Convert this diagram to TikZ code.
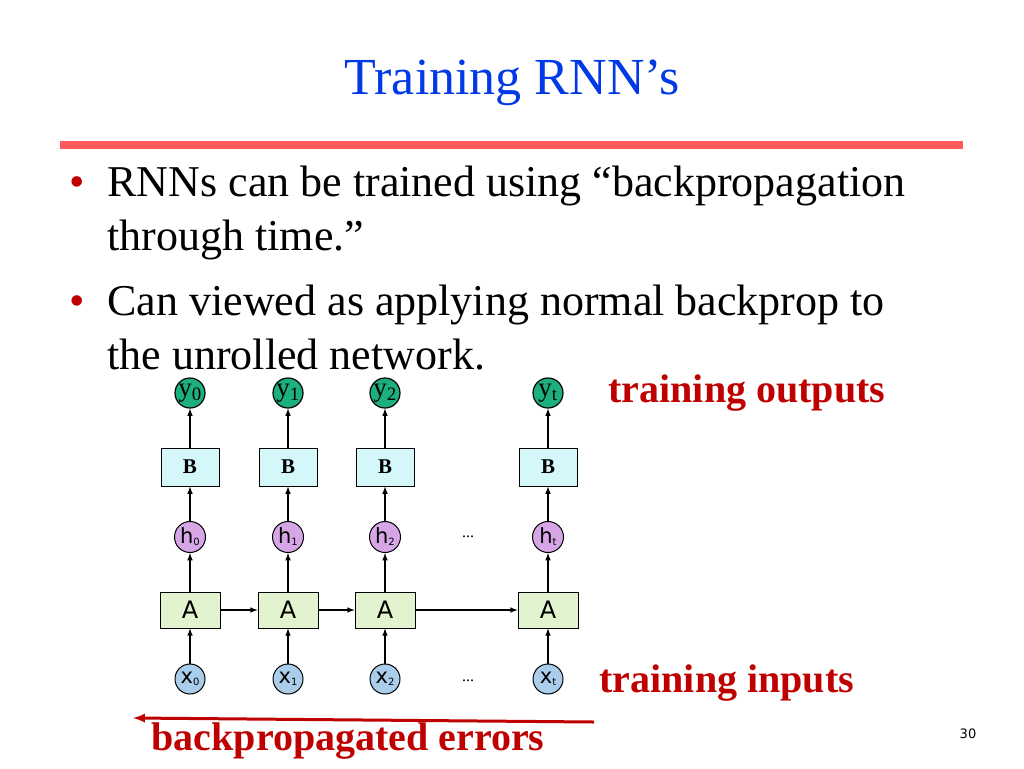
\documentclass[tikz,border=0pt]{standalone}
\usepackage{fontspec}
\setmainfont{Liberation Serif}
\setsansfont{DejaVu Sans}
\definecolor{ygreen}{HTML}{1DAF7E}
\definecolor{xblue}{HTML}{A9CDEB}
\definecolor{hviolet}{HTML}{D6A6E6}
\definecolor{bcyan}{HTML}{D4F8FA}
\definecolor{agreen}{HTML}{E2F3CF}
\begin{document}
\begin{tikzpicture}[x=1pt,y=-1pt,
  ycirc/.style={circle,draw,line width=1.2pt,fill=ygreen,minimum size=30pt,inner sep=0pt,font=\fontsize{27}{27}\selectfont},
  hcirc/.style={circle,draw,line width=1pt,fill=hviolet,minimum size=31pt,inner sep=0pt,font=\sffamily\fontsize{21}{21}\selectfont},
  xcirc/.style={circle,draw,line width=1pt,fill=xblue,minimum size=30pt,inner sep=0pt,font=\sffamily\fontsize{21}{21}\selectfont},
  bbox/.style={draw,line width=1pt,fill=bcyan,minimum width=58pt,minimum height=38pt,font=\bfseries\fontsize{21}{21}\selectfont},
  abox/.style={draw,line width=0.8pt,fill=agreen,minimum width=60pt,minimum height=36pt,font=\sffamily\fontsize{24}{24}\selectfont},
  arr/.style={-latex,line width=1.5pt},
  lab/.style={text=red!75!black,font=\bfseries\fontsize{40}{40}\selectfont,anchor=west},
  bodyt/.style={font=\fontsize{44}{44}\selectfont,anchor=base west}]
\useasboundingbox (0,0) rectangle (1024,768);
\node[text=blue!75!cyan!90!black,font=\fontsize{52}{52}\selectfont] (title) at (512,83) {Training RNN’s};
\draw[line width=8pt,red!65!white] (60,145) -- (963,145);
\node[bodyt,text=red!75!black] (b1) at (66,196) {•};
\node[bodyt] (t1) at (104,196) {RNNs can be trained using “backpropagation};
\node[bodyt] (t2) at (104,250) {through time.”};
\node[bodyt,text=red!75!black] (b2) at (66,315) {•};
\node[bodyt] (t3) at (104,315) {Can viewed as applying normal backprop to};
\node[bodyt] (t4) at (104,369) {the unrolled network.};
\foreach \i/\x/\s in {0/190/0,1/288/1,2/385/2,3/548/t}{
  \node[ycirc] (y\i) at (\x,393) {y$_{\mathrm{\s}}$};
  \node[bbox] (B\i) at (\x,467) {B};
  \node[hcirc] (h\i) at (\x,537) {h{\fontsize{10}{10}\selectfont\raisebox{-2pt}{\s}}};
  \node[abox] (A\i) at (\x,610) {A};
  \node[xcirc] (x\i) at (\x,679) {x{\fontsize{10}{10}\selectfont\raisebox{-2pt}{\s}}};
  \draw[arr] (x\i) -- (A\i);
  \draw[arr] (A\i) -- (h\i);
  \draw[arr] (h\i) -- (B\i);
  \draw[arr] (B\i) -- (y\i);
}
\draw[arr] (A0) -- (A1);
\draw[arr] (A1) -- (A2);
\draw[arr] (A2) -- (A3);
\node[font=\fontsize{16}{16}\selectfont] (d1) at (468,537) {...};
\node[font=\fontsize{16}{16}\selectfont] (d2) at (468,681) {...};
\node[lab] (lo) at (605,393) {training outputs};
\node[lab] (li) at (596,683) {training inputs};
\node[lab] (le) at (148,741) {backpropagated errors};
\coordinate (es) at (594,722);
\coordinate (ee) at (133,718);
\draw[-latex,line width=3pt,red!75!black] (es) -- (ee);
\node[font=\sffamily\fontsize{13}{13}\selectfont] (pg) at (968,734) {30};
\end{tikzpicture}
\end{document}
